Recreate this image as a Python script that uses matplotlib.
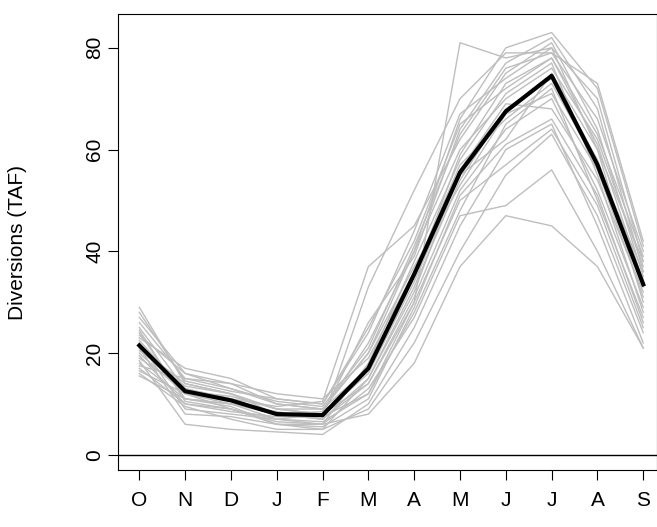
import matplotlib.pyplot as plt
import numpy as np

months = ['O', 'N', 'D', 'J', 'F', 'M', 'A', 'M', 'J', 'J', 'A', 'S']

# mean diversions (TAF)
mean_div = [21.5, 12.5, 10.7, 8.0, 7.8, 17.0, 35.5, 55.5, 67.5, 74.5, 57.0, 33.5]

# individual years (TAF)
years = [
    [29.0, 14.0, 12.0, 9.0, 8.0, 14.0, 30.0, 81.0, 78.0, 80.0, 60.0, 38.0],
    [27.0, 16.0, 13.0, 10.0, 9.0, 20.0, 40.0, 66.0, 80.0, 83.0, 72.0, 41.0],
    [25.0, 13.0, 11.0, 9.5, 10.5, 37.0, 45.0, 62.0, 75.0, 81.0, 64.0, 35.0],
    [24.0, 11.0, 10.0, 8.0, 7.0, 33.0, 52.0, 70.0, 79.0, 79.0, 73.0, 42.0],
    [23.0, 17.0, 15.0, 11.0, 10.0, 25.0, 42.0, 65.0, 72.0, 78.0, 63.0, 39.0],
    [22.0, 9.0, 8.0, 7.0, 6.0, 18.0, 38.0, 58.0, 71.0, 77.0, 55.0, 28.0],
    [21.0, 14.0, 12.0, 9.0, 8.0, 16.0, 34.0, 55.0, 62.0, 75.0, 60.0, 30.0],
    [20.0, 12.0, 9.0, 6.0, 5.0, 15.0, 33.0, 54.0, 68.0, 74.0, 58.0, 33.0],
    [19.5, 10.0, 8.5, 7.5, 7.5, 12.0, 28.0, 48.0, 65.0, 72.0, 50.0, 27.0],
    [19.0, 13.0, 11.0, 8.0, 8.5, 22.0, 40.0, 60.0, 70.0, 76.0, 62.0, 37.0],
    [18.5, 6.0, 5.0, 4.5, 4.0, 10.0, 25.0, 45.0, 60.0, 65.0, 45.0, 22.0],
    [18.0, 11.0, 10.0, 8.5, 7.0, 14.0, 31.0, 52.0, 64.0, 70.0, 52.0, 29.0],
    [17.5, 15.0, 14.0, 12.0, 11.0, 19.0, 36.0, 57.0, 66.0, 73.0, 57.0, 36.0],
    [17.0, 10.0, 9.0, 6.5, 6.0, 8.0, 18.0, 37.0, 47.0, 45.0, 37.0, 21.0],
    [16.5, 12.0, 10.0, 7.0, 6.5, 12.0, 30.0, 50.0, 57.0, 64.0, 49.0, 25.0],
    [16.0, 9.5, 7.0, 5.0, 5.0, 9.0, 22.0, 40.0, 55.0, 63.0, 47.0, 24.0],
    [15.5, 11.0, 9.5, 6.0, 6.0, 13.0, 27.0, 47.0, 49.0, 56.0, 40.0, 21.0],
    [26.0, 15.0, 13.0, 10.5, 9.5, 21.0, 41.0, 63.0, 76.0, 79.0, 66.0, 40.0],
    [28.0, 14.5, 12.5, 11.0, 10.0, 24.0, 44.0, 67.0, 74.0, 80.0, 70.0, 38.0],
    [22.5, 12.5, 11.5, 9.0, 9.0, 17.0, 35.0, 59.0, 73.0, 78.0, 61.0, 34.0],
    [20.5, 13.5, 12.0, 8.0, 7.0, 15.0, 32.0, 56.0, 69.0, 68.0, 54.0, 32.0],
    [24.5, 10.5, 9.0, 7.0, 8.0, 26.0, 39.0, 64.0, 77.0, 82.0, 68.0, 36.0],
    [21.0, 8.0, 7.5, 6.0, 5.5, 11.0, 29.0, 51.0, 61.0, 66.0, 51.0, 26.0],
    [23.5, 16.0, 14.0, 10.0, 9.0, 20.0, 37.0, 53.0, 67.0, 71.0, 56.0, 31.0],
]

plt.rcParams['font.family'] = ['Liberation Sans', 'DejaVu Sans']
fig = plt.figure(figsize=(6.57, 5.27), dpi=100)
ax = fig.add_axes([0.18, 0.108, 0.82, 0.865])

x = np.arange(len(months))
for y in years:
    ax.plot(x, y, color='#bebebe', lw=1.0)
ax.plot(x, mean_div, color='black', lw=3)
ax.axhline(0, color='black', lw=1)

ax.set_xlim(-0.46, 11.3)
ax.set_ylim(-3, 86.6)
ax.set_xticks(x)
ax.set_xticklabels(months, fontsize=15)
ax.set_yticks([0, 20, 40, 60, 80])
ax.set_yticklabels(['0', '20', '40', '60', '80'], rotation=90, va='center', fontsize=15)
ax.tick_params(direction='out', length=7)
ax.tick_params(axis='x', pad=8)
ax.tick_params(axis='y', pad=3)
ax.set_ylabel('Diversions (TAF)', fontsize=15)
ax.yaxis.set_label_coords(-0.17, 0.5)

fig.savefig('out.png')
